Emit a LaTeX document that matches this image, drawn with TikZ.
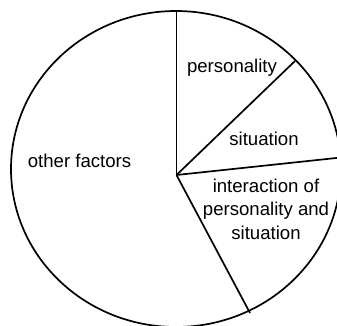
\documentclass[tikz,border=0pt]{standalone}
\usepackage{fontspec}
\setmainfont{Liberation Sans}
\usepackage{tikz}
\usetikzlibrary{calc}

\begin{document}
\begin{tikzpicture}[x=1pt,y=-1pt,
    rim/.style={line width=1.7pt},
    spoke/.style={line width=1.7pt},
    label/.style={font=\fontsize{18.6}{23.5}\selectfont,inner sep=0pt}]
          \useasboundingbox (0,0) rectangle (337,326);
          \clip (0,0) rectangle (337,326);
          % whole pie and its hub
          \draw[rim] (176,169) ellipse [x radius=165, y radius=158];
          \coordinate (hub) at (176.5,175);
          \coordinate (top) at (176.5,11);
          \coordinate (ne) at (295,61);
          \coordinate (east) at (341,157.5);
          \coordinate (south) at (250,313);
          \draw[spoke] (hub) -- (top);
          \draw[spoke] (hub) -- (ne);
          \draw[spoke] (hub) -- (east);
          \draw[spoke] (hub) -- (south);
          % slice texts
          \node[label,anchor=base] (pers) at (232,73){personality};
          \node[label,anchor=base] (sit) at (264,146){situation};
          \node[label,anchor=base] (other) at (79.5,167){other factors};
          \node[label,align=center] (inter) at (266,209){interaction of\\personality and\\situation};
        \end{tikzpicture}
\end{document}
